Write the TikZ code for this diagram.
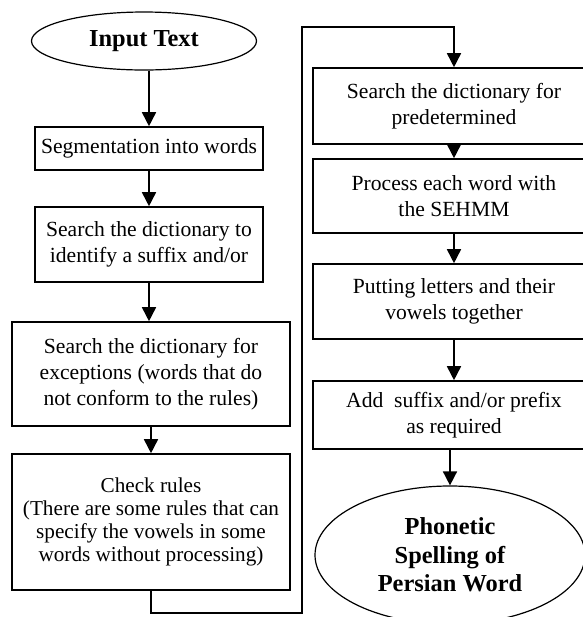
\documentclass[tikz,border=0pt]{standalone}
\usepackage{fontspec}
\setmainfont{Liberation Serif}
\usepackage{tikz}
\usetikzlibrary{arrows.meta,shapes.geometric}

\begin{document}
\begin{tikzpicture}[x=0.5pt,y=-0.5pt,
    box/.style={draw,line width=0.8pt,rectangle,inner sep=0pt,align=center,
        font=\fontsize{10.8}{13}\selectfont},
    term/.style={draw,line width=0.6pt,ellipse,inner sep=0pt,align=center,
        font=\fontsize{12.2}{14.3}\selectfont\bfseries},
    flow/.style={line width=0.8pt,-{Triangle[length=7pt,width=7pt]}}]

    \useasboundingbox (0,0) rectangle (583,617);
    \clip (0,0) rectangle (583,617);

    % left column
    \node[term,minimum width=112.5pt,minimum height=29pt] (intxt) at (144,41) {Input Text};
    \node[box,minimum width=114pt,minimum height=21.5pt] (seg) at (149,148.5)
        {Segmentation into words};
    \node[box,minimum width=114pt,minimum height=37.5pt] (sfx) at (149,244.5)
        {Search the dictionary to\\identify a suffix and/or};
    \node[box,minimum width=139pt,minimum height=52pt] (exc) at (151,374)
        {Search the dictionary for\\exceptions (words that do\\not conform to the rules)};
    \node[box,minimum width=139pt,minimum height=68pt,
        font=\fontsize{10.6}{11.5}\selectfont] (chk) at (151,522)
        {Check rules\\(There are some rules that can\\specify the vowels in some\\words without processing)};

    % right column
    \node[box,minimum width=141pt,minimum height=38pt] (pre) at (454,106)
        {Search the dictionary for\\predetermined};
    \node[box,minimum width=141pt,minimum height=37pt] (sehmm) at (454,196)
        {Process each word with\\the SEHMM};
    \node[box,minimum width=141pt,minimum height=37.5pt] (putv) at (454,301.5)
        {Putting letters and their\\vowels together};
    \node[box,minimum width=141pt,minimum height=34pt] (addsp) at (454,415)
        {Add~ suffix and/or prefix\\as required};
    \node[term,minimum width=135pt,minimum height=69pt] (phon) at (450,555)
        {Phonetic\\Spelling of\\Persian Word};

    % turn points
    \coordinate (lowturn) at (302,613);
    \coordinate (topturn) at (302,27);

    % connectors
    \draw[flow] (intxt.south -| seg.north) -- (seg.north);
    \draw[flow] (seg) -- (sfx);
    \draw[flow] (sfx) -- (sfx |- exc.north);
    \draw[flow] (exc) -- (chk);
    \draw[flow] (chk.south) |- (lowturn) -- (topturn) -| (pre.north);
    \draw[flow] (pre) -- (sehmm);
    \draw[flow] (sehmm) -- (putv);
    \draw[flow] (putv) -- (addsp);
    \draw[flow] (addsp.south -| phon.north) -- (phon.north);
\end{tikzpicture}
\end{document}
